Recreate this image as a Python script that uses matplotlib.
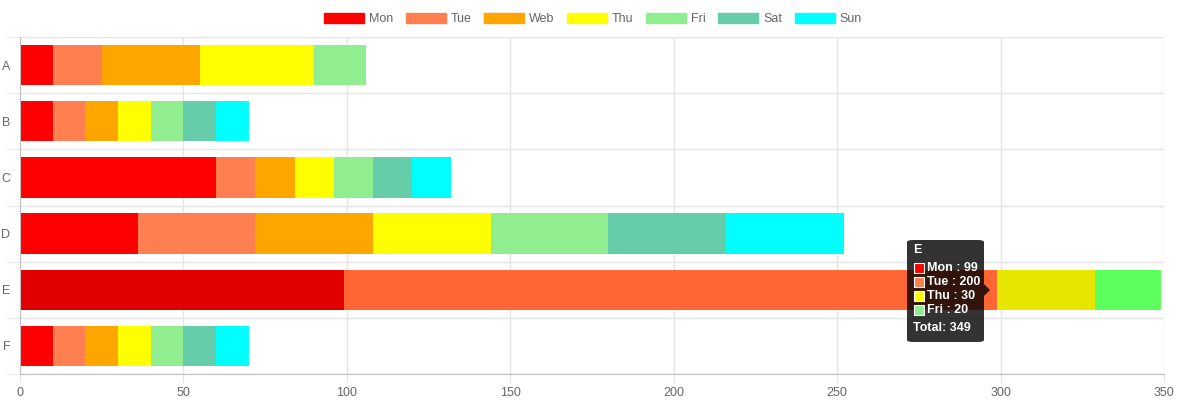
import matplotlib.pyplot as plt
import matplotlib.patches as mpatches
import numpy as np

plt.rcParams['font.family'] = ['Liberation Sans', 'DejaVu Sans']

# data
categories = ['A', 'B', 'C', 'D', 'E', 'F']
days = ['Mon', 'Tue', 'Web', 'Thu', 'Fri', 'Sat', 'Sun']
values = {
    'Mon': [10, 10, 60, 36, 99, 10],
    'Tue': [15, 10, 12, 36, 200, 10],
    'Web': [30, 10, 12, 36, 0, 10],
    'Thu': [35, 10, 12, 36, 30, 10],
    'Fri': [16, 10, 12, 36, 20, 10],
    'Sat': [0, 10, 12, 36, 0, 10],
    'Sun': [0, 10, 12, 36, 0, 10],
}
colors = ['#ff0000', '#ff7f50', '#ffa500', '#ffff00', '#90ee90', '#66cdaa', '#00ffff']
hover_colors = ['#e00000', '#ff6633', '#e69500', '#e6e600', '#5cff5c', '#4dbf99', '#00e6e6']
hover_cat = 'E'

W, H = 1186, 413
fig = plt.figure(figsize=(W / 100, H / 100), dpi=100)
ax = fig.add_axes([20 / W, 39 / H, 1144 / W, 337 / H])

y = np.arange(len(categories))
left = np.zeros(len(categories))
for day, col, hcol in zip(days, colors, hover_colors):
    vals = np.array(values[day], dtype=float)
    cols = [hcol if c == hover_cat else col for c in categories]
    ax.barh(y, vals, left=left, height=0.72, color=cols, linewidth=0)
    left += vals

ax.set_xlim(0, 350)
ax.set_ylim(len(categories) - 0.5, -0.5)
ax.set_xticks(np.arange(0, 351, 50))
ax.set_yticks(y)
ax.set_yticklabels(categories)

# grid: vertical at ticks, horizontal between categories
ax.set_yticks(np.arange(-0.5, len(categories), 1), minor=True)
ax.grid(axis='x', color='#e5e5e5', linewidth=1)
ax.grid(axis='y', which='minor', color='#e5e5e5', linewidth=1)
ax.set_axisbelow(True)
ax.tick_params(axis='y', which='major', length=0, pad=7, labelsize=9, labelcolor='#666666')
ax.tick_params(axis='y', which='minor', length=10, color='#e5e5e5')
ax.tick_params(axis='x', length=6, color='#e5e5e5', pad=3, labelsize=9, labelcolor='#666666')
for s in ['top', 'right']:
    ax.spines[s].set_visible(False)
ax.spines['left'].set_color('#c0c0c0')
ax.spines['bottom'].set_color('#c0c0c0')

# legend
handles = [mpatches.Patch(color=c, label=d) for d, c in zip(days, colors)]
fig.legend(handles=handles, loc='center', bbox_to_anchor=(0.5, 1 - 19 / H), ncol=7,
           frameon=False, handlelength=3.2, handleheight=0.9, handletextpad=0.4,
           columnspacing=1.0, fontsize=9, labelcolor='#666666')

# tooltip on E
def fx(px):
    return px / W

def fy(py):
    return 1 - py / H

tip = mpatches.FancyBboxPatch((fx(907), fy(342)), fx(984) - fx(907), fy(240) - fy(342),
                              boxstyle='round,pad=0,rounding_size=0.005',
                              transform=fig.transFigure, facecolor=(0, 0, 0, 0.8),
                              edgecolor='none', zorder=10)
fig.add_artist(tip)
caret = mpatches.Polygon([[fx(984), fy(284)], [fx(990), fy(290)], [fx(984), fy(296)]],
                         closed=True, transform=fig.transFigure,
                         facecolor=(0, 0, 0, 0.8), edgecolor='none', zorder=10)
fig.add_artist(caret)
fig.text(fx(913), fy(250), hover_cat, color='white', fontsize=9, fontweight='bold',
         va='center', ha='left', zorder=11)
idx = categories.index(hover_cat)
row = 268
total = 0
for day, col in zip(days, colors):
    v = values[day][idx]
    if v == 0:
        continue
    total += v
    fig.add_artist(mpatches.Rectangle((fx(914), fy(row + 5)), fx(10), 10 / H,
                                      transform=fig.transFigure, facecolor=col,
                                      edgecolor='white', linewidth=0.8, zorder=11))
    fig.text(fx(927), fy(row), f'{day} : {v}', color='white', fontsize=9,
             fontweight='bold', va='center', ha='left', zorder=11)
    row += 14
fig.text(fx(913), fy(row + 4), f'Total: {total}', color='white', fontsize=9,
         fontweight='bold', va='center', ha='left', zorder=11)

fig.savefig('out.png', dpi=100)
